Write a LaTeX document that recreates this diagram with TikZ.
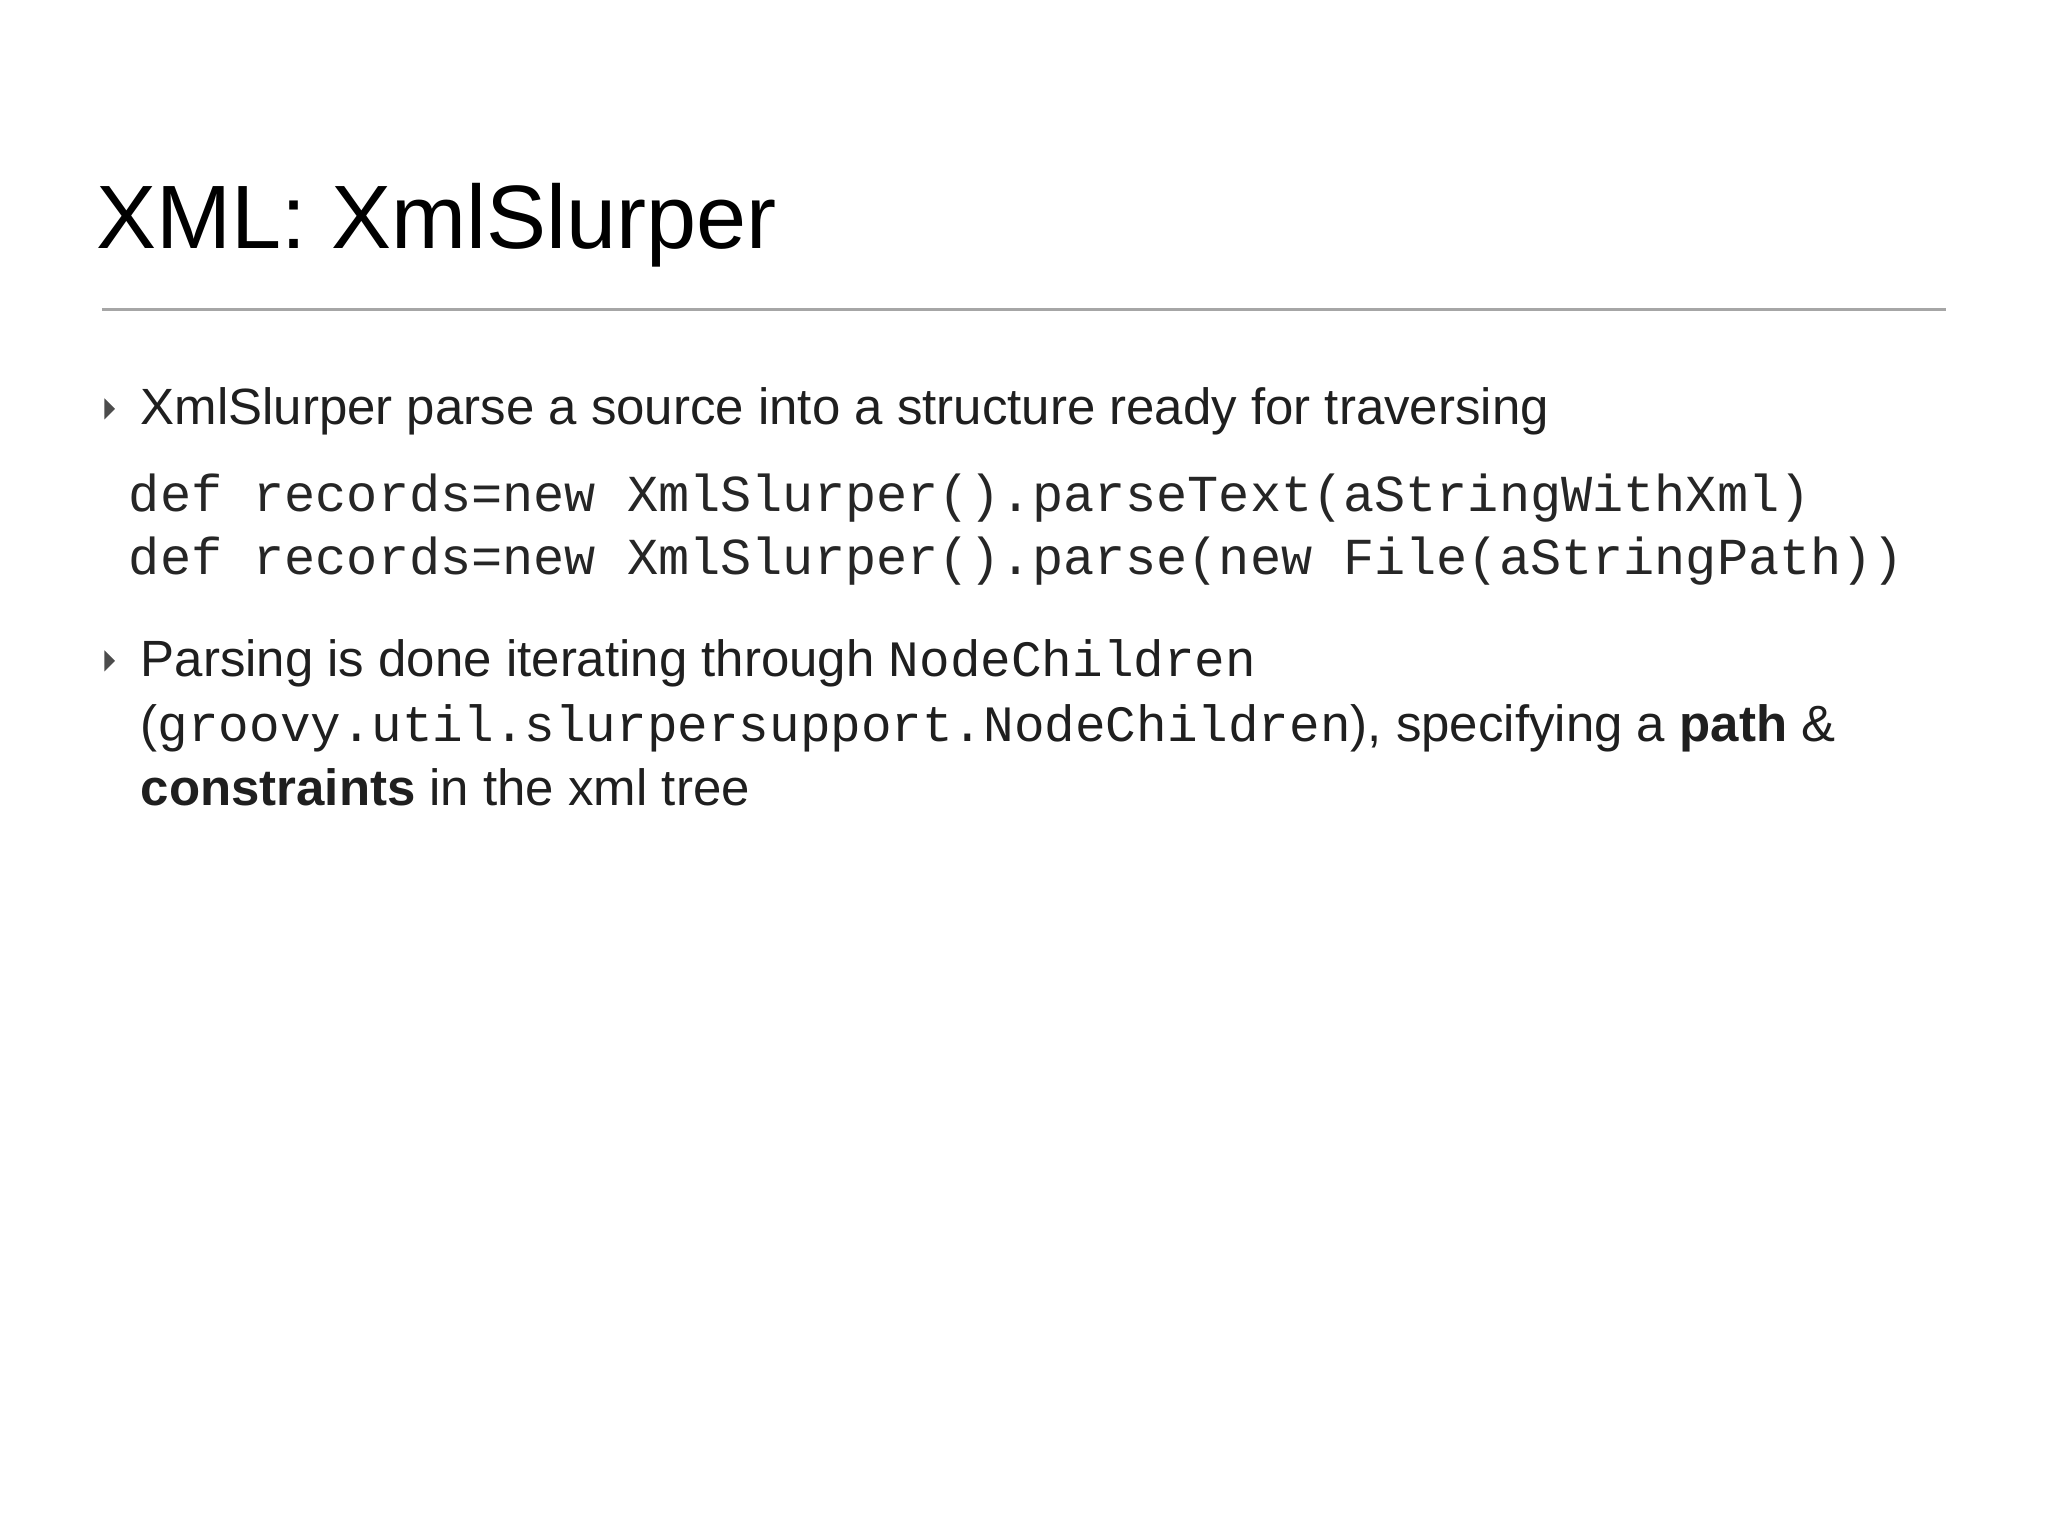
\documentclass[tikz,border=0pt]{standalone}
\usepackage{fontspec}
\setmainfont{Liberation Sans}
\setmonofont{Liberation Mono}
\begin{document}
\begin{tikzpicture}[x=0.01cm,y=-0.01cm,
  txt/.style={anchor=base west,inner sep=0pt,text=black!88,font=\fontsize{11.1pt}{14pt}\selectfont},
  code/.style={anchor=base west,inner sep=0pt,text=black!85,font=\ttfamily\fontsize{11.3pt}{14pt}\selectfont},
  tri/.style={fill=black!70}]
\useasboundingbox (0,0) rectangle (1568,1176);
\node[anchor=base west,inner sep=0pt,text=black,font=\fontsize{19.6pt}{24pt}\selectfont] (title) at (73,190) {XML: XmlSlurper};
\draw[black!35,line width=0.6pt] (78,237) -- (1490,237);
\fill[tri] (80,305) -- (88,313) -- (80,321) -- cycle;
\node[txt] (b1) at (107,325) {XmlSlurper parse a source into a structure ready for traversing};
\node[code] (c1) at (98,392) {def records=new XmlSlurper().parseText(aStringWithXml)};
\node[code] (c2) at (98,440) {def records=new XmlSlurper().parse(new File(aStringPath))};
\fill[tri] (80,498) -- (88,506) -- (80,514) -- cycle;
\node[txt] (b2a) at (107,518) {Parsing is done iterating through \texttt{NodeChildren}};
\node[txt] (b2b) at (107,568) {(\texttt{groovy.util.slurpersupport.NodeChildren}), specifying a \textbf{path} \&};
\node[txt] (b2c) at (107,617) {\textbf{constraints} in the xml tree};
\end{tikzpicture}
\end{document}
